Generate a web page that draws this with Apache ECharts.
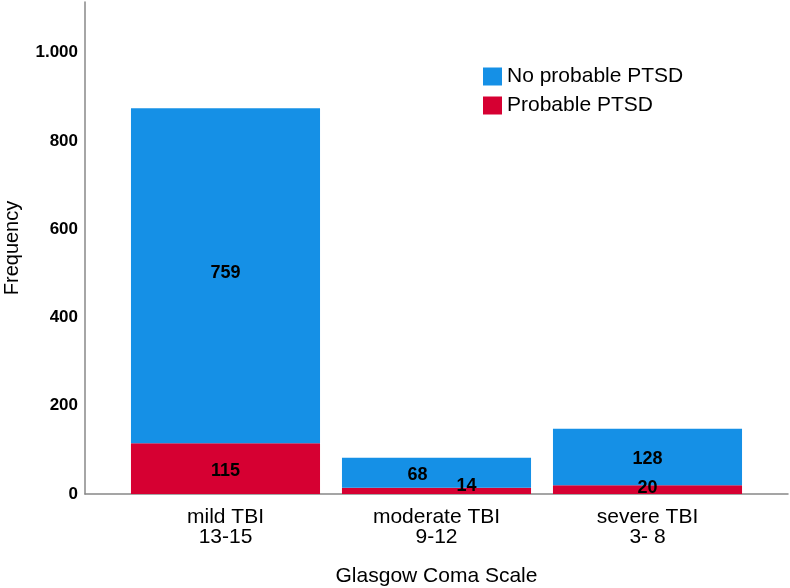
<!DOCTYPE html>
<html>
<head>
<meta charset="utf-8">
<script src="https://cdn.jsdelivr.net/npm/echarts@6/dist/echarts.min.js"></script>
<style>
html,body{margin:0;padding:0;background:#fff;}
#chart{width:790px;height:588px;}
</style>
</head>
<body>
<div id="chart"></div>
<script>
const categories = ['mild TBI\n13-15', 'moderate TBI\n9-12', 'severe TBI\n3- 8'];
const probablePTSD = [115, 14, 20];
const noProbablePTSD = [759, 68, 128];
const seriesNames = ['No probable PTSD', 'Probable PTSD'];
const yMin = 0, yMax = 1115, yInterval = 200;

const FONT = "'Liberation Sans', Arial, sans-serif";
const LABEL_FONT = "'Liberation Sans Narrow', 'Arial Narrow', 'Liberation Sans', sans-serif";
const BLUE = '#1590e6';
const RED = '#d60032';

// label nudges (styling only)
const blueOffsets = [[0, -3], [-19, 2], [0, 2]];
const redOffsets = [[0, 2], [30, -5], [0, -2]];

const chart = echarts.init(document.getElementById('chart'), null, {renderer: 'canvas'});

function fmt(v) {
  return String(v).replace(/\B(?=(\d{3})+(?!\d))/g, '.');
}

const labelBase = {
  show: true, position: 'inside', color: '#000', fontWeight: 'bold',
  fontSize: 18, fontFamily: LABEL_FONT
};

chart.setOption({
  animation: false,
  backgroundColor: '#fff',
  textStyle: {fontFamily: FONT},
  legend: {
    data: seriesNames,
    orient: 'vertical',
    left: 478, top: 61,
    itemWidth: 19, itemHeight: 18, itemGap: 8,
    icon: 'rect',
    textStyle: {fontSize: 21, color: '#000', fontFamily: FONT},
    selectedMode: false
  },
  grid: [
    {left: 85, right: 2, top: 2, bottom: 94, containLabel: false, outerBoundsMode: 'none'},
    {left: 120, right: 37, top: 2, bottom: 94, containLabel: false, outerBoundsMode: 'none'}
  ],
  xAxis: [
    {gridIndex: 0, type: 'category', data: [''], axisLine: {show: true, lineStyle: {color: '#888', width: 1.5}},
     axisTick: {show: false}, axisLabel: {show: false}, splitLine: {show: false}},
    {gridIndex: 1, type: 'category', data: categories,
     axisLine: {show: false}, axisTick: {show: false},
     axisLabel: {color: '#000', fontSize: 21, fontFamily: FONT, lineHeight: 20, margin: 13},
     name: 'Glasgow Coma Scale', nameLocation: 'middle', nameGap: 72,
     nameTextStyle: {color: '#000', fontSize: 21, fontFamily: FONT}}
  ],
  yAxis: [
    {gridIndex: 0, type: 'value', min: yMin, max: yMax, interval: yInterval,
     axisLine: {show: true, lineStyle: {color: '#888', width: 1.5}},
     axisTick: {show: false}, splitLine: {show: false},
     axisLabel: {color: '#000', fontWeight: 'bold', fontSize: 17, fontFamily: FONT, margin: 7,
       showMaxLabel: false, formatter: v => (v % yInterval === 0 ? fmt(v) : '')},
     name: 'Frequency', nameLocation: 'middle', nameGap: 63,
     nameTextStyle: {color: '#000', fontSize: 20, fontFamily: FONT}},
    {gridIndex: 1, type: 'value', min: yMin, max: yMax, show: false}
  ],
  series: [
    {
      name: seriesNames[1], type: 'bar', stack: 'total', xAxisIndex: 1, yAxisIndex: 1,
      barCategoryGap: '10.4%',
      itemStyle: {color: RED},
      data: probablePTSD.map((v, i) => ({value: v, label: Object.assign({}, labelBase, {offset: redOffsets[i]})})),
      label: labelBase
    },
    {
      name: seriesNames[0], type: 'bar', stack: 'total', xAxisIndex: 1, yAxisIndex: 1,
      barCategoryGap: '10.4%',
      itemStyle: {color: BLUE},
      data: noProbablePTSD.map((v, i) => ({value: v, label: Object.assign({}, labelBase, {offset: blueOffsets[i]})})),
      label: labelBase
    }
  ]
});
</script>
</body>
</html>
